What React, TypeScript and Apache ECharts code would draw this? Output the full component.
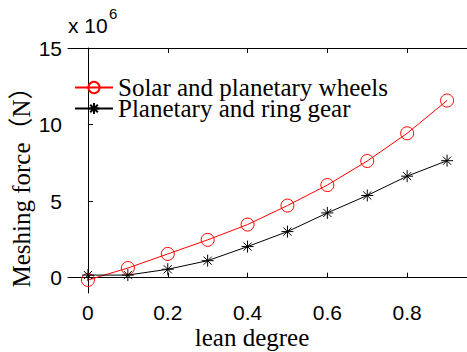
import React, { useEffect, useRef } from "react";
import * as echarts from "echarts";

// values in units of 10^6 N
const leanDegree = [0, 0.1, 0.2, 0.3, 0.4, 0.5, 0.6, 0.7, 0.8, 0.9];
const solarPlanetary = [-0.15, 0.63, 1.55, 2.47, 3.47, 4.71, 6.05, 7.62, 9.43, 11.57];
const planetaryRing = [0.17, 0.17, 0.55, 1.11, 2.03, 3.01, 4.23, 5.37, 6.63, 7.64];
const xTicks = [0, 0.2, 0.4, 0.6, 0.8];
const yTicks = [0, 5, 10, 15];
const seriesNames = ["Solar and planetary wheels", "Planetary and ring gear"];

const STAR = "path://M5,0L5,10M0,5L10,5M1.6,1.6L8.4,8.4M1.6,8.4L8.4,1.6";

export default function App() {
  const ref = useRef<HTMLDivElement>(null);
  useEffect(() => {
    if (!ref.current) return;
    const chart = echarts.init(ref.current, undefined, { renderer: "svg" });
    const axisCommon = {
      type: "value" as const,
      axisLine: { show: true, lineStyle: { color: "#000", width: 1 } },
      splitLine: { show: false },
    };
    chart.setOption({
      animation: false,
      backgroundColor: "#fff",
      grid: { left: 68, top: 48, right: -5, bottom: 59 },
      xAxis: [
        {
          ...axisCommon,
          position: "bottom",
          min: -0.05,
          max: 0.95,
          axisTick: { show: true, inside: true, length: 5, customValues: xTicks, lineStyle: { color: "#000" } },
          axisLabel: {
            customValues: xTicks,
            margin: 9,
            color: "#000",
            fontFamily: "Liberation Sans",
            fontSize: 21,
          },
        },
        {
          ...axisCommon,
          position: "top",
          min: -0.05,
          max: 0.95,
          axisTick: { show: true, inside: true, length: 5, customValues: xTicks, lineStyle: { color: "#000" } },
          axisLabel: { show: false },
        },
      ],
      yAxis: [
        {
          ...axisCommon,
          min: -1,
          max: 15,
          axisTick: { show: true, inside: true, length: 5, customValues: yTicks, lineStyle: { color: "#000" } },
          axisLabel: {
            customValues: yTicks,
            margin: 6,
            color: "#000",
            fontFamily: "Liberation Sans",
            fontSize: 21,
          },
        },
      ],
      legend: {
        orient: "vertical",
        left: 74,
        top: 75,
        itemGap: -4,
        itemWidth: 38,
        itemHeight: 14,
        padding: 0,
        data: seriesNames,
        textStyle: {
          color: "#000",
          fontFamily: "Liberation Serif",
          fontSize: 25,
          lineHeight: 25,
        },
      },
      series: [
        {
          name: seriesNames[0],
          type: "line",
          data: leanDegree.map((x, i) => [x, solarPlanetary[i]]),
          symbol: "circle",
          symbolSize: 13,
          lineStyle: { color: "#ff0000", width: 1 },
          itemStyle: { color: "rgba(0,0,0,0)", borderColor: "#ff0000", borderWidth: 1 },
        },
        {
          name: seriesNames[1],
          type: "line",
          data: leanDegree.map((x, i) => [x, planetaryRing[i]]),
          symbol: STAR,
          symbolSize: 12,
          symbolKeepAspect: true,
          lineStyle: { color: "#000", width: 1 },
          itemStyle: { color: "#000", borderColor: "#000", borderWidth: 1 },
        },
      ],
      graphic: [
        {
          type: "text",
          left: 68,
          top: 15,
          style: {
            text: "x 10",
            fill: "#000",
            font: '21px "Liberation Sans"',
          },
        },
        {
          type: "text",
          left: 109,
          top: 6,
          style: {
            text: "6",
            fill: "#000",
            font: '15px "Liberation Sans"',
          },
        },
        {
          type: "text",
          x: 252,
          y: 337,
          style: {
            text: "lean degree",
            fill: "#000",
            font: '25px "Liberation Serif"',
            align: "center",
            verticalAlign: "middle",
          },
        },
        {
          type: "text",
          x: 21,
          y: 181,
          rotation: Math.PI / 2,
          style: {
            text: "Meshing force（N）",
            fill: "#000",
            font: '25px "Liberation Serif", "Noto Sans CJK SC"',
            align: "center",
            verticalAlign: "middle",
          },
        },
      ],
    });
    return () => chart.dispose();
  }, []);
  return (
    <div
      ref={ref}
      style={{ position: "fixed", left: 0, top: 0, width: 467, height: 352 }}
    />
  );
}
